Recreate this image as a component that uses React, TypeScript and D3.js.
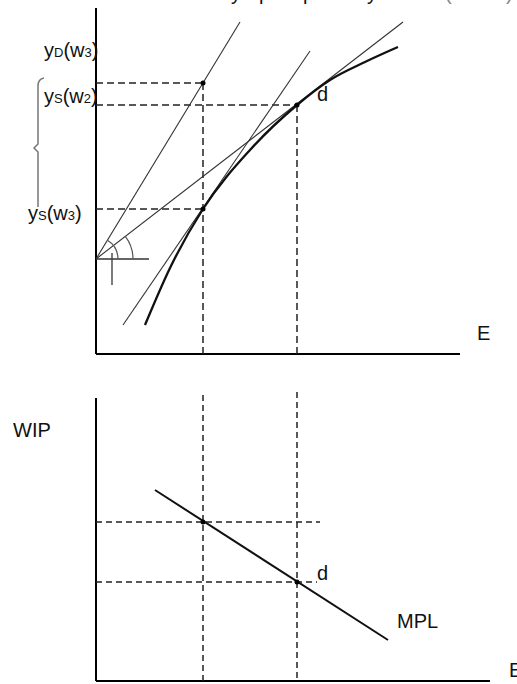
import * as d3 from "d3";

// chart size
const width = 517;
const height = 684;

// top panel: output y against employment E (units = px offsets from the axes)
const curveE = [49, 74, 107, 154, 201, 234, 269, 302];
const curveY = [29, 86, 145, 204, 249, 274, 292, 307];
const rayOrigin = [0, 95];
const rayEndsE = [144, 307];
const rayEndsY = [332, 332];
const tangentE = [27, 214];
const tangentY = [29, 303];
const eLevels = [107, 201];
const yLevels = [271, 249, 145]; // yD(w3), yS(w2), yS(w3)

// bottom panel: MPL against E
const mplE = [59, 292];
const mplW = [191, 41];
const wLevels = [159, 99];

// title glyphs that peek in at the top edge
const titleParts = ["y", "p", "p", "y", "(", ")"];
const titleX = [231, 259, 303, 367, 445, 506];

const fontFamily = "'Liberation Sans', Arial, sans-serif";

const App = () => {
  // scales
  const x = d3.scaleLinear().domain([0, 364]).range([96, 460]);
  const yTop = d3.scaleLinear().domain([0, 346]).range([354, 8]);
  const yBot = d3.scaleLinear().domain([0, 283]).range([681, 398]);
  const xBot = d3.scaleLinear().domain([0, 394]).range([96, 490]);

  const curveLine = d3.line<number>()
    .x((d, i) => x(curveE[i]))
    .y((d) => yTop(d))
    .curve(d3.curveMonotoneX);

  // points on the curve
  const pA = [x(eLevels[0]), yTop(yLevels[2])];
  const pD = [x(eLevels[1]), yTop(yLevels[1])];
  const pB = [x(eLevels[0]), yTop(yLevels[0])];
  const o = [x(rayOrigin[0]), yTop(rayOrigin[1])];

  // angle arcs at the ray origin
  const ang1 = Math.atan2(yTop(rayOrigin[1]) - yTop(rayEndsY[0]), x(rayEndsE[0]) - o[0]);
  const ang2 = Math.atan2(yTop(rayOrigin[1]) - yTop(rayEndsY[1]), x(rayEndsE[1]) - o[0]);
  const arc1 = d3.path();
  arc1.arc(o[0], o[1], 22, -ang1, 0);
  const arc2 = d3.path();
  arc2.arc(o[0], o[1], 37, -ang2, 0);

  // curly brace on the left
  const bx = x(-58);
  const bTop = yTop(276);
  const bMid = yTop(206);
  const bBot = yTop(147);
  const brace = d3.path();
  brace.moveTo(bx + 6, bTop);
  brace.quadraticCurveTo(bx, bTop + 1, bx, bTop + 8);
  brace.lineTo(bx, bMid - 4);
  brace.lineTo(bx - 4, bMid);
  brace.lineTo(bx, bMid + 4);
  brace.lineTo(bx, bBot);

  const dash = "7,4";
  const labelSize = 20;
  const subSize = 13;

  return (
    <svg width={width} height={height} style={{ position: "absolute", left: 0, top: 0, background: "#fff" }}
      fontFamily={fontFamily}>
      {/* cut-off title */}
      <text y={0} fontSize={20} fill="#111">
        {titleParts.map((t, i) => (
          <tspan key={i} x={titleX[i]} fill={i > 3 ? "#888" : "#111"}>{t}</tspan>
        ))}
      </text>

      {/* ---- top panel ---- */}
      <line x1={x(0)} y1={yTop(346)} x2={x(0)} y2={yTop(0)} stroke="#000" strokeWidth={2} />
      <line x1={x(0)} y1={yTop(0)} x2={x(364)} y2={yTop(0)} stroke="#000" strokeWidth={2} />

      {/* dashed guides */}
      <line x1={x(0)} y1={pB[1]} x2={pB[0]} y2={pB[1]} stroke="#222" strokeWidth={1.5} strokeDasharray={dash} />
      <line x1={x(0)} y1={pD[1]} x2={pD[0]} y2={pD[1]} stroke="#222" strokeWidth={1.5} strokeDasharray={dash} />
      <line x1={x(0)} y1={pA[1]} x2={pA[0]} y2={pA[1]} stroke="#222" strokeWidth={1.5} strokeDasharray={dash} />
      <line x1={pB[0]} y1={pB[1]} x2={pB[0]} y2={yTop(0)} stroke="#222" strokeWidth={1.5} strokeDasharray={dash} />
      <line x1={pD[0]} y1={pD[1]} x2={pD[0]} y2={yTop(0)} stroke="#222" strokeWidth={1.5} strokeDasharray={dash} />

      {/* rays from the origin */}
      {rayEndsE.map((e, i) => (
        <line key={i} x1={o[0]} y1={o[1]} x2={x(e)} y2={yTop(rayEndsY[i])} stroke="#333" strokeWidth={1.1} />
      ))}
      <line x1={o[0]} y1={o[1]} x2={x(53)} y2={o[1]} stroke="#333" strokeWidth={1.6} />
      <line x1={x(16)} y1={yTop(101)} x2={x(16)} y2={yTop(69)} stroke="#444" strokeWidth={1.4} />
      <path d={arc1.toString()} fill="none" stroke="#555" strokeWidth={1.2} />
      <path d={arc2.toString()} fill="none" stroke="#555" strokeWidth={1.2} />

      {/* tangent at yS(w3) */}
      <line x1={x(tangentE[0])} y1={yTop(tangentY[0])} x2={x(tangentE[1])} y2={yTop(tangentY[1])}
        stroke="#333" strokeWidth={1.1} />

      {/* production curve */}
      <path d={curveLine(curveY) ?? ""} fill="none" stroke="#111" strokeWidth={2.3} />

      {[pA, pD, pB].map((p, i) => (
        <circle key={i} cx={p[0]} cy={p[1]} r={2.5} fill="#000" />
      ))}

      {/* brace */}
      <path d={brace.toString()} fill="none" stroke="#777" strokeWidth={1.5} />

      {/* labels */}
      <text x={44} y={57} fontSize={labelSize} fill="#111">
        y<tspan fontSize={subSize}>D</tspan>(w<tspan fontSize={subSize}>3</tspan>)
      </text>
      <text x={44} y={103} fontSize={labelSize} fill="#111">
        y<tspan fontSize={subSize}>S</tspan>(w<tspan fontSize={subSize}>2</tspan>)
      </text>
      <text x={28} y={220} fontSize={labelSize} fill="#111">
        y<tspan fontSize={subSize}>S</tspan>(w<tspan fontSize={subSize}>3</tspan>)
      </text>
      <text x={pD[0] + 20} y={pD[1] - 4} fontSize={labelSize} fill="#111">d</text>
      <text x={477} y={340} fontSize={labelSize} fill="#111">E</text>

      {/* ---- bottom panel ---- */}
      <line x1={xBot(0)} y1={yBot(283)} x2={xBot(0)} y2={yBot(0)} stroke="#000" strokeWidth={2} />
      <line x1={xBot(0)} y1={yBot(0)} x2={xBot(394)} y2={yBot(0)} stroke="#000" strokeWidth={2} />

      {eLevels.map((e, i) => (
        <line key={i} x1={xBot(e)} y1={yBot(286 + i * 3)} x2={xBot(e)} y2={yBot(0)}
          stroke="#222" strokeWidth={1.5} strokeDasharray="6,4" />
      ))}
      <line x1={xBot(0)} y1={yBot(wLevels[0])} x2={xBot(224)} y2={yBot(wLevels[0])}
        stroke="#222" strokeWidth={1.5} strokeDasharray="6,4" />
      <line x1={xBot(0)} y1={yBot(wLevels[1])} x2={xBot(221)} y2={yBot(wLevels[1])}
        stroke="#222" strokeWidth={1.5} strokeDasharray="6,4" />

      <line x1={xBot(mplE[0])} y1={yBot(mplW[0])} x2={xBot(mplE[1])} y2={yBot(mplW[1])}
        stroke="#111" strokeWidth={2} />
      {eLevels.map((e, i) => (
        <circle key={i} cx={xBot(e)} cy={yBot(wLevels[i])} r={2.5} fill="#000" />
      ))}

      <text x={13} y={437} fontSize={labelSize} fill="#111">WIP</text>
      <text x={xBot(eLevels[1]) + 20} y={580} fontSize={labelSize} fill="#111">d</text>
      <text x={397} y={628} fontSize={labelSize} fill="#111">MPL</text>
      <text x={509} y={677} fontSize={labelSize} fill="#111">E</text>
    </svg>
  );
};

export default App;
